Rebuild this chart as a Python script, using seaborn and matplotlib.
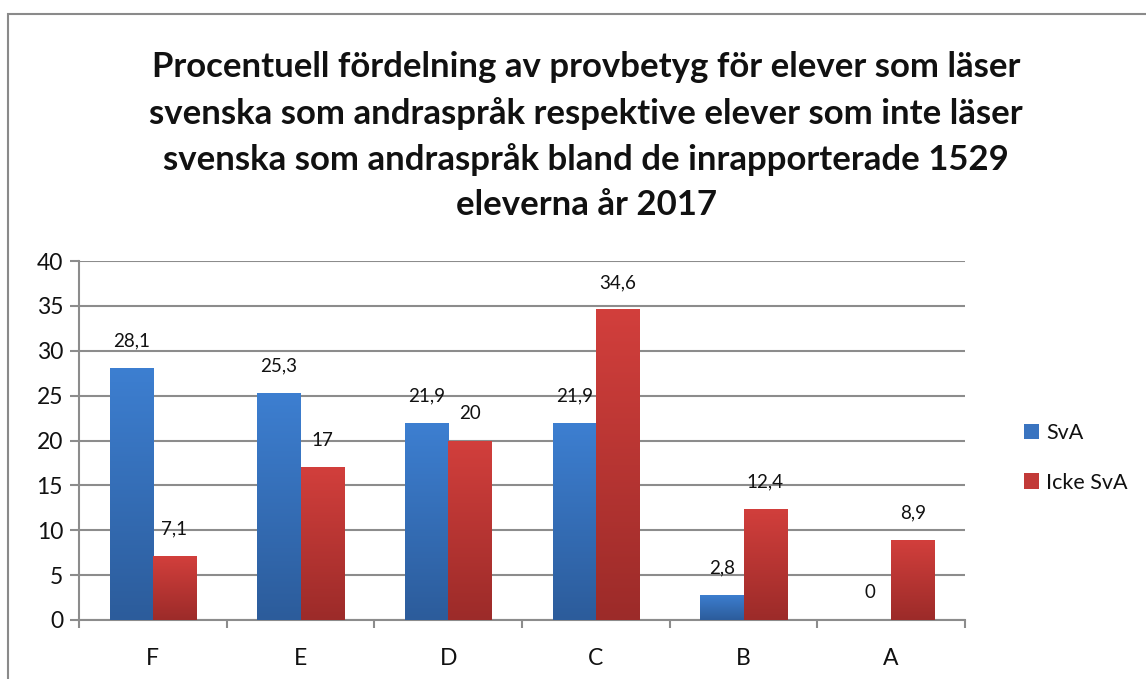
import numpy as np
import pandas as pd
import matplotlib
matplotlib.use("Agg")
import matplotlib.pyplot as plt
from matplotlib.patches import Rectangle, Patch
from matplotlib.colors import LinearSegmentedColormap
import seaborn as sns

categories = ["F", "E", "D", "C", "B", "A"]
series_names = ["SvA", "Icke SvA"]
sva = [28.1, 25.3, 21.9, 21.9, 2.8, 0]
icke_sva = [7.1, 17, 20, 34.6, 12.4, 8.9]
yticks = [0, 5, 10, 15, 20, 25, 30, 35, 40]
title = ("Procentuell fördelning av provbetyg för elever som läser\n"
         "svenska som andraspråk respektive elever som inte läser\n"
         "svenska som andraspråk bland de inrapporterade 1529\n"
         "eleverna år 2017")

df = pd.DataFrame({
    "cat": categories * 2,
    "serie": [series_names[0]] * len(categories) + [series_names[1]] * len(categories),
    "val": sva + icke_sva,
})

sns.set_theme(style="white")
plt.rcParams['font.family'] = ['Lato', 'DejaVu Sans']

fig = plt.figure(figsize=(11.46, 6.79), dpi=100)
W, H = 1146, 679
ax = fig.add_axes([79 / W, 1 - 620 / H, (965 - 79) / W, (620 - 261) / H])

mid_colors = ["#3a74c0", "#c23a38"]
sns.barplot(data=df, x="cat", y="val", hue="serie", order=categories,
            hue_order=series_names, palette=mid_colors, width=0.585,
            saturation=1, ax=ax, legend=False, zorder=3, linewidth=0)

ax.set_ylim(0, 40)
ax.set_xlim(-0.5, len(categories) - 0.5)
ax.set_yticks(yticks)
ax.set_xlabel("")
ax.set_ylabel("")

grads = [
    LinearSegmentedColormap.from_list("b", ["#2c5c9b", "#3d7fd1"]),
    LinearSegmentedColormap.from_list("r", ["#9c2b29", "#d23f3c"]),
]
grad = np.linspace(0, 1, 256).reshape(-1, 1)
for i, cont in enumerate(ax.containers):
    for p in cont.patches:
        x0, y0 = p.get_x(), p.get_y()
        w, h = p.get_width(), p.get_height()
        if h <= 0:
            continue
        im = ax.imshow(grad, cmap=grads[i], origin="lower", aspect="auto",
                       extent=[x0, x0 + w, y0, y0 + h], zorder=3.5)
        im.set_clip_path(p)
ax.set_xlim(-0.5, len(categories) - 0.5)
ax.set_ylim(0, 40)

# data labels
for i, cont in enumerate(ax.containers):
    vals = sva if i == 0 else icke_sva
    for p, v in zip(cont.patches, vals):
        txt = f"{v:g}".replace(".", ",")
        ax.annotate(txt, (p.get_x() + p.get_width() / 2, p.get_height()),
                    xytext=(0, 19.5), textcoords="offset points",
                    ha="center", va="center", fontsize=13.5, color="#111111",
                    zorder=5)

# grid and spines
ax.yaxis.grid(True, color="#8c8c8c", linewidth=1.5, zorder=0)
ax.set_axisbelow(True)
for s in ["top", "right"]:
    ax.spines[s].set_visible(False)
ax.spines["left"].set_color("#8c8c8c")
ax.spines["left"].set_linewidth(1.5)
ax.spines["bottom"].set_color("#8c8c8c")
ax.spines["bottom"].set_linewidth(1.5)
ax.tick_params(axis="y", which="major", length=6.5, width=1.5, color="#8c8c8c",
               labelsize=16.5, labelcolor="#111111", pad=5, left=True)
ax.set_xticks(range(len(categories)))
ax.set_xticklabels(categories)
ax.tick_params(axis="x", which="major", length=0, labelsize=16.5,
               labelcolor="#111111", pad=20)
ax.set_xticks(np.arange(-0.5, len(categories)), minor=True)
ax.tick_params(axis="x", which="minor", length=6, width=1.5, color="#8c8c8c",
               bottom=True)

# title
fig.text(586 / W, 1 - 136 / H, title, ha="center", va="center",
         fontsize=25, fontweight="bold", color="#111111", linespacing=1.5)

# legend
handles = [Patch(facecolor=mid_colors[0], edgecolor="none"),
           Patch(facecolor=mid_colors[1], edgecolor="none")]
fig.legend(handles, series_names, loc="center left",
           bbox_to_anchor=(1005 / W, 1 - 458 / H), frameon=False,
           fontsize=15.5, handlelength=0.7, handleheight=0.7,
           handletextpad=0.3, labelspacing=1.35, labelcolor="#111111")

# outer border
fig.patches.append(Rectangle((8 / W, -0.01), 1.02, 1 - 14 / H + 0.01,
                             transform=fig.transFigure, fill=False,
                             edgecolor="#8a8a8a", linewidth=1.5))

fig.savefig("out.png", dpi=100)
